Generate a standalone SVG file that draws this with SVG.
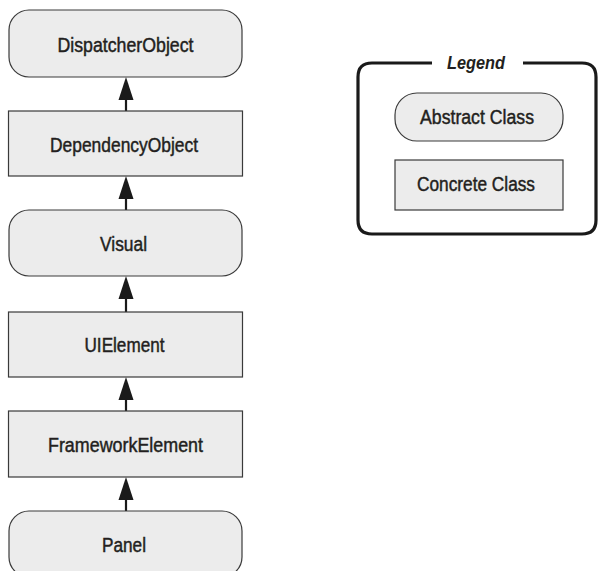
<svg xmlns="http://www.w3.org/2000/svg" width="598" height="571" viewBox="0 0 598 571">
<style>
.box{fill:#ececec;stroke:#3a3a3a;stroke-width:1.2}
.t{font-family:"Liberation Sans",Arial,sans-serif;font-size:20px;fill:#231f20;stroke:#231f20;stroke-width:0.45;text-anchor:middle}
.conn{stroke:#1a1a1a;stroke-width:2.2;fill:none}
.head{fill:#1a1a1a}
</style>
<rect width="598" height="571" fill="#fff"/>
<g id="connectors">
<line class="conn" x1="126" y1="111" x2="126" y2="99"/><path class="head" d="M118.5,100 L126,77 L133.5,100 Z"/>
<line class="conn" x1="126" y1="210" x2="126" y2="198"/><path class="head" d="M118.5,199 L126,176 L133.5,199 Z"/>
<line class="conn" x1="126" y1="312" x2="126" y2="298"/><path class="head" d="M118.5,299 L126,276 L133.5,299 Z"/>
<line class="conn" x1="126" y1="411" x2="126" y2="399"/><path class="head" d="M118.5,400 L126,377 L133.5,400 Z"/>
<line class="conn" x1="126" y1="511" x2="126" y2="499"/><path class="head" d="M118.5,500 L126,477 L133.5,500 Z"/>
</g>
<g id="DispatcherObject"><rect class="box" x="9" y="10" width="233" height="67" rx="20"/><text class="t" x="125.5" y="52" textLength="136" lengthAdjust="spacingAndGlyphs">DispatcherObject</text></g>
<g id="DependencyObject"><rect class="box" x="8.5" y="111" width="234" height="65"/><text class="t" x="124" y="152" textLength="148" lengthAdjust="spacingAndGlyphs">DependencyObject</text></g>
<g id="Visual"><rect class="box" x="9" y="210" width="233" height="66" rx="20"/><text class="t" x="123.5" y="251" textLength="47" lengthAdjust="spacingAndGlyphs">Visual</text></g>
<g id="UIElement"><rect class="box" x="8.5" y="312" width="234" height="65"/><text class="t" x="124.5" y="352" textLength="80" lengthAdjust="spacingAndGlyphs">UIElement</text></g>
<g id="FrameworkElement"><rect class="box" x="8.5" y="411" width="234" height="66"/><text class="t" x="125.5" y="452" textLength="155" lengthAdjust="spacingAndGlyphs">FrameworkElement</text></g>
<g id="Panel"><rect class="box" x="9" y="511" width="233" height="66" rx="20"/><text class="t" x="124" y="552" textLength="44" lengthAdjust="spacingAndGlyphs">Panel</text></g>
<g id="legend">
<path d="M432,63 L372,63 Q358,63 358,77 L358,220 Q358,234 372,234 L582,234 Q596,234 596,220 L596,77 Q596,63 582,63 L523,63" fill="none" stroke="#1a1a1a" stroke-width="3.2"/>
<text x="476" y="69" font-family="'Liberation Sans',Arial,sans-serif" font-size="19" font-weight="bold" font-style="italic" fill="#231f20" text-anchor="middle" textLength="58" lengthAdjust="spacingAndGlyphs">Legend</text>
<g id="legend-abstract"><rect class="box" x="395" y="93" width="168" height="48" rx="22"/><text class="t" x="477" y="124" textLength="114" lengthAdjust="spacingAndGlyphs">Abstract Class</text></g>
<g id="legend-concrete"><rect class="box" x="395" y="160" width="168" height="50"/><text class="t" x="476" y="191" textLength="118" lengthAdjust="spacingAndGlyphs">Concrete Class</text></g>
</g>
</svg>
